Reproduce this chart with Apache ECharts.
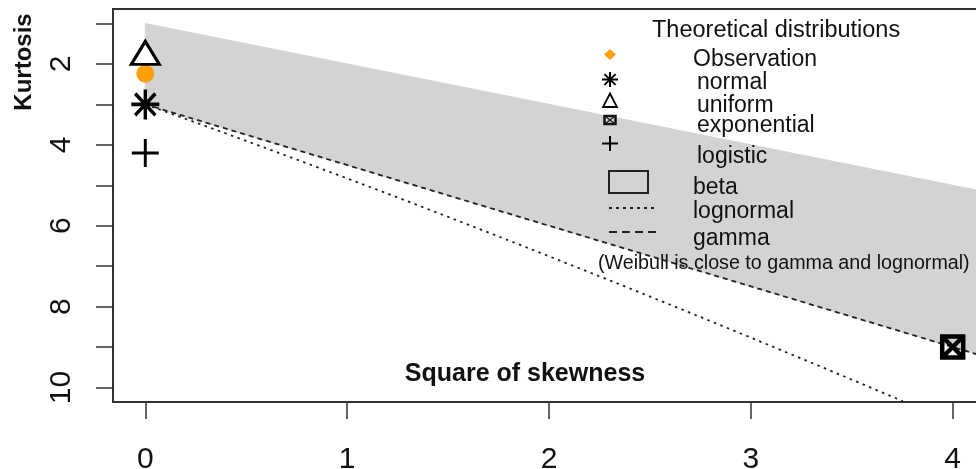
<!DOCTYPE html>
<html>
<head>
<meta charset="utf-8">
<script src="https://cdn.jsdelivr.net/npm/echarts@6/dist/echarts.min.js"></script>
<style>
html,body{margin:0;padding:0;background:#fff;}
#chart{width:976px;height:469px;}
</style>
</head>
<body>
<div id="chart"></div>
<script>
// ---- data ----
const xTicks = [0, 1, 2, 3, 4];
const yTicks = [1, 2, 3, 4, 5, 6, 7, 8, 9, 10];
const yLabels = [2, 4, 6, 8, 10];
const observation = [[0.0, 2.24]];
const normalPt = [[0, 3.0]];
const uniformPt = [[0, 1.8]];
const exponentialPt = [[4, 9.0]];
const logisticPt = [[0, 4.2]];
const betaUpper = [[0, 1.0], [4.16, 5.16]];
const gammaLine = [[0, 3.0], [4.16, 9.24]];
const lognormalLine = [
  [0, 3.0], [0.229, 3.409], [0.465, 3.838], [0.709, 4.287], [0.961, 4.756],
  [1.221, 5.246], [1.488, 5.758], [1.764, 6.292], [2.048, 6.85], [2.340, 7.430],
  [2.641, 8.035], [2.950, 8.665], [3.267, 9.320], [3.527, 9.863], [3.753, 10.34]
];
const legendTitle = 'Theoretical distributions';
const legendNames = ['Observation', 'normal', 'uniform', 'exponential', 'logistic', 'beta', 'lognormal', 'gamma'];
const legendNote = '(Weibull is close to gamma and lognormal)';

const FONT = 'Liberation Sans, Arial, sans-serif';
const chart = echarts.init(document.getElementById('chart'), null, {renderer: 'canvas'});

const asterisk = 'path://M0,-1L0,1M-1,0L1,0M-0.72,-0.72L0.72,0.72M-0.72,0.72L0.72,-0.72';
const plusPath = 'path://M0,-1L0,1M-1,0L1,0';
const boxX = 'path://M-1,-1L1,-1L1,1L-1,1ZM-1,-1L1,1M-1,1L1,-1';

function seg(x1, y1, x2, y2, w, color) {
  return {type: 'line', z: 100, shape: {x1: x1, y1: y1, x2: x2, y2: y2}, style: {stroke: color || '#000', lineWidth: w}};
}

// legend layout
const legendSym = [
  {type: 'diamond', y: 54.5},
  {type: 'asterisk', y: 79.5},
  {type: 'triangle', y: 100.5},
  {type: 'boxx', y: 120},
  {type: 'plus', y: 143.5},
  {type: 'rect', y: 182},
  {type: 'dotted', y: 208},
  {type: 'dashed', y: 232}
];
const legendTextPos = [
  [693, 60], [697, 83], [697, 106], [697, 126], [697, 157], [693, 188], [693, 212], [693, 239]
];
const sx = 610;
const graphics = [];
graphics.push({type: 'text', x: 652, y: 31, z: 100,
  style: {text: legendTitle, font: '23.5px ' + FONT, fill: '#111', textAlign: 'left', textVerticalAlign: 'middle'}});
legendSym.forEach((s, i) => {
  const y = s.y;
  let el;
  if (s.type === 'diamond') {
    el = {type: 'polygon', shape: {points: [[sx, y - 5.5], [sx + 6, y], [sx, y + 5.5], [sx - 6, y]]}, style: {fill: '#FFA00A'}};
  } else if (s.type === 'asterisk') {
    el = {type: 'group', children: [
      seg(sx, y - 7.5, sx, y + 7.5, 2), seg(sx - 8, y, sx + 8, y, 2),
      seg(sx - 5.6, y - 5.4, sx + 5.6, y + 5.4, 2), seg(sx - 5.6, y + 5.4, sx + 5.6, y - 5.4, 2)
    ]};
  } else if (s.type === 'triangle') {
    el = {type: 'polygon', shape: {points: [[sx, y - 7], [sx + 7, y + 6.5], [sx - 7, y + 6.5]]}, style: {fill: '#fff', stroke: '#000', lineWidth: 1.8}};
  } else if (s.type === 'boxx') {
    el = {type: 'group', children: [
      {type: 'rect', z: 100, shape: {x: sx - 5.5, y: y - 4, width: 11, height: 8}, style: {fill: '#ddd', stroke: '#111', lineWidth: 2.5}},
      seg(sx - 4, y - 3, sx + 4, y + 3, 1.5, '#222'), seg(sx - 4, y + 3, sx + 4, y - 3, 1.5, '#222')
    ]};
  } else if (s.type === 'plus') {
    el = {type: 'group', children: [
      seg(sx, y - 7.5, sx, y + 7.5, 2), seg(sx - 8, y, sx + 8, y, 2)
    ]};
  } else if (s.type === 'rect') {
    el = {type: 'rect', shape: {x: 609, y: 171, width: 39, height: 22}, style: {fill: '#D3D3D3', stroke: '#222', lineWidth: 2}};
  } else if (s.type === 'dotted') {
    el = {type: 'line', shape: {x1: 609, y1: y, x2: 658, y2: y}, style: {stroke: '#222', lineWidth: 2, lineDash: [3, 4]}};
  } else {
    el = {type: 'line', shape: {x1: 609, y1: y, x2: 658, y2: y}, style: {stroke: '#222', lineWidth: 2, lineDash: [8, 5]}};
  }
  el.z = 100;
  graphics.push(el);
  graphics.push({type: 'text', x: legendTextPos[i][0], y: legendTextPos[i][1], z: 100,
    style: {text: legendNames[i], font: '23px ' + FONT, fill: '#111', textAlign: 'left', textVerticalAlign: 'middle'}});
});
graphics.push({type: 'text', x: 598, y: 264, z: 100,
  style: {text: legendNote, font: '19.7px ' + FONT, fill: '#111', textAlign: 'left', textVerticalAlign: 'middle'}});
graphics.push({type: 'text', x: 525, y: 374, z: 100,
  style: {text: 'Square of skewness', font: 'bold 25px ' + FONT, fill: '#111', textAlign: 'center', textVerticalAlign: 'middle'}});
graphics.push({type: 'text', x: 24, y: 62, rotation: Math.PI / 2, z: 100,
  style: {text: 'Kurtosis', font: 'bold 24px ' + FONT, fill: '#111', textAlign: 'center', textVerticalAlign: 'middle'}});

const option = {
  animation: false,
  backgroundColor: '#fff',
  grid: {left: 113, top: 9, width: 872, height: 393, outerBoundsMode: 'none', containLabel: false,
    show: true, borderColor: '#333', borderWidth: 2, backgroundColor: 'transparent'},
  xAxis: {
    type: 'value', min: -0.16, max: 4.16,
    splitLine: {show: false},
    axisLine: {show: false, onZero: false},
    axisTick: {show: true, length: 17, customValues: xTicks, lineStyle: {color: '#333', width: 1.5}},
    axisLabel: {customValues: xTicks, fontSize: 30, fontFamily: FONT, color: '#111', margin: 43}
  },
  yAxis: {
    type: 'value', inverse: true, min: 0.64, max: 10.36,
    splitLine: {show: false},
    axisLine: {show: false, onZero: false},
    axisTick: {show: true, length: 17, customValues: yTicks, lineStyle: {color: '#333', width: 1.5}},
    axisLabel: {customValues: yLabels, rotate: 90, fontSize: 30, fontFamily: FONT, color: '#111', margin: 36}
  },
  graphic: graphics,
  series: [
    {
      type: 'custom', name: 'beta', silent: true, z: 1, clip: true,
      data: [[0, 1]],
      renderItem: function (params, api) {
        const pts = betaUpper.map(p => api.coord(p)).concat(gammaLine.slice().reverse().map(p => api.coord(p)));
        return {type: 'polygon', shape: {points: pts}, style: {fill: '#D3D3D3', stroke: '#D3D3D3', lineWidth: 1}};
      }
    },
    {
      type: 'line', name: 'lognormal', data: lognormalLine, showSymbol: false, symbol: 'none', z: 3,
      lineStyle: {color: '#222', width: 1.8, type: [2.5, 4.5]}, silent: true
    },
    {
      type: 'line', name: 'gamma', data: gammaLine, showSymbol: false, symbol: 'none', z: 3,
      lineStyle: {color: '#222', width: 1.8, type: [5, 4]}, silent: true
    },
    {
      type: 'scatter', name: 'Observation', data: observation, symbol: 'circle', symbolSize: 18, z: 4,
      itemStyle: {color: '#FFA00A', opacity: 1}
    },
    {
      type: 'scatter', name: 'normal', data: normalPt, symbol: asterisk, symbolSize: [28, 30], z: 5,
      itemStyle: {color: 'rgba(0,0,0,0)', borderColor: '#000', borderWidth: 3.5, opacity: 1}
    },
    {
      type: 'scatter', name: 'uniform', data: uniformPt, symbol: 'triangle', symbolSize: [28, 23], symbolOffset: [0, -3], z: 5,
      itemStyle: {color: '#fff', borderColor: '#000', borderWidth: 3, opacity: 1}
    },
    {
      type: 'scatter', name: 'exponential', data: exponentialPt, symbol: boxX, symbolSize: [21, 21], z: 5,
      itemStyle: {color: 'rgba(0,0,0,0)', borderColor: '#000', borderWidth: 4.5, opacity: 1}
    },
    {
      type: 'scatter', name: 'logistic', data: logisticPt, symbol: plusPath, symbolSize: [27, 28], z: 5,
      itemStyle: {color: 'rgba(0,0,0,0)', borderColor: '#000', borderWidth: 3, opacity: 1}
    }
  ]
};
chart.setOption(option);
</script>
</body>
</html>
